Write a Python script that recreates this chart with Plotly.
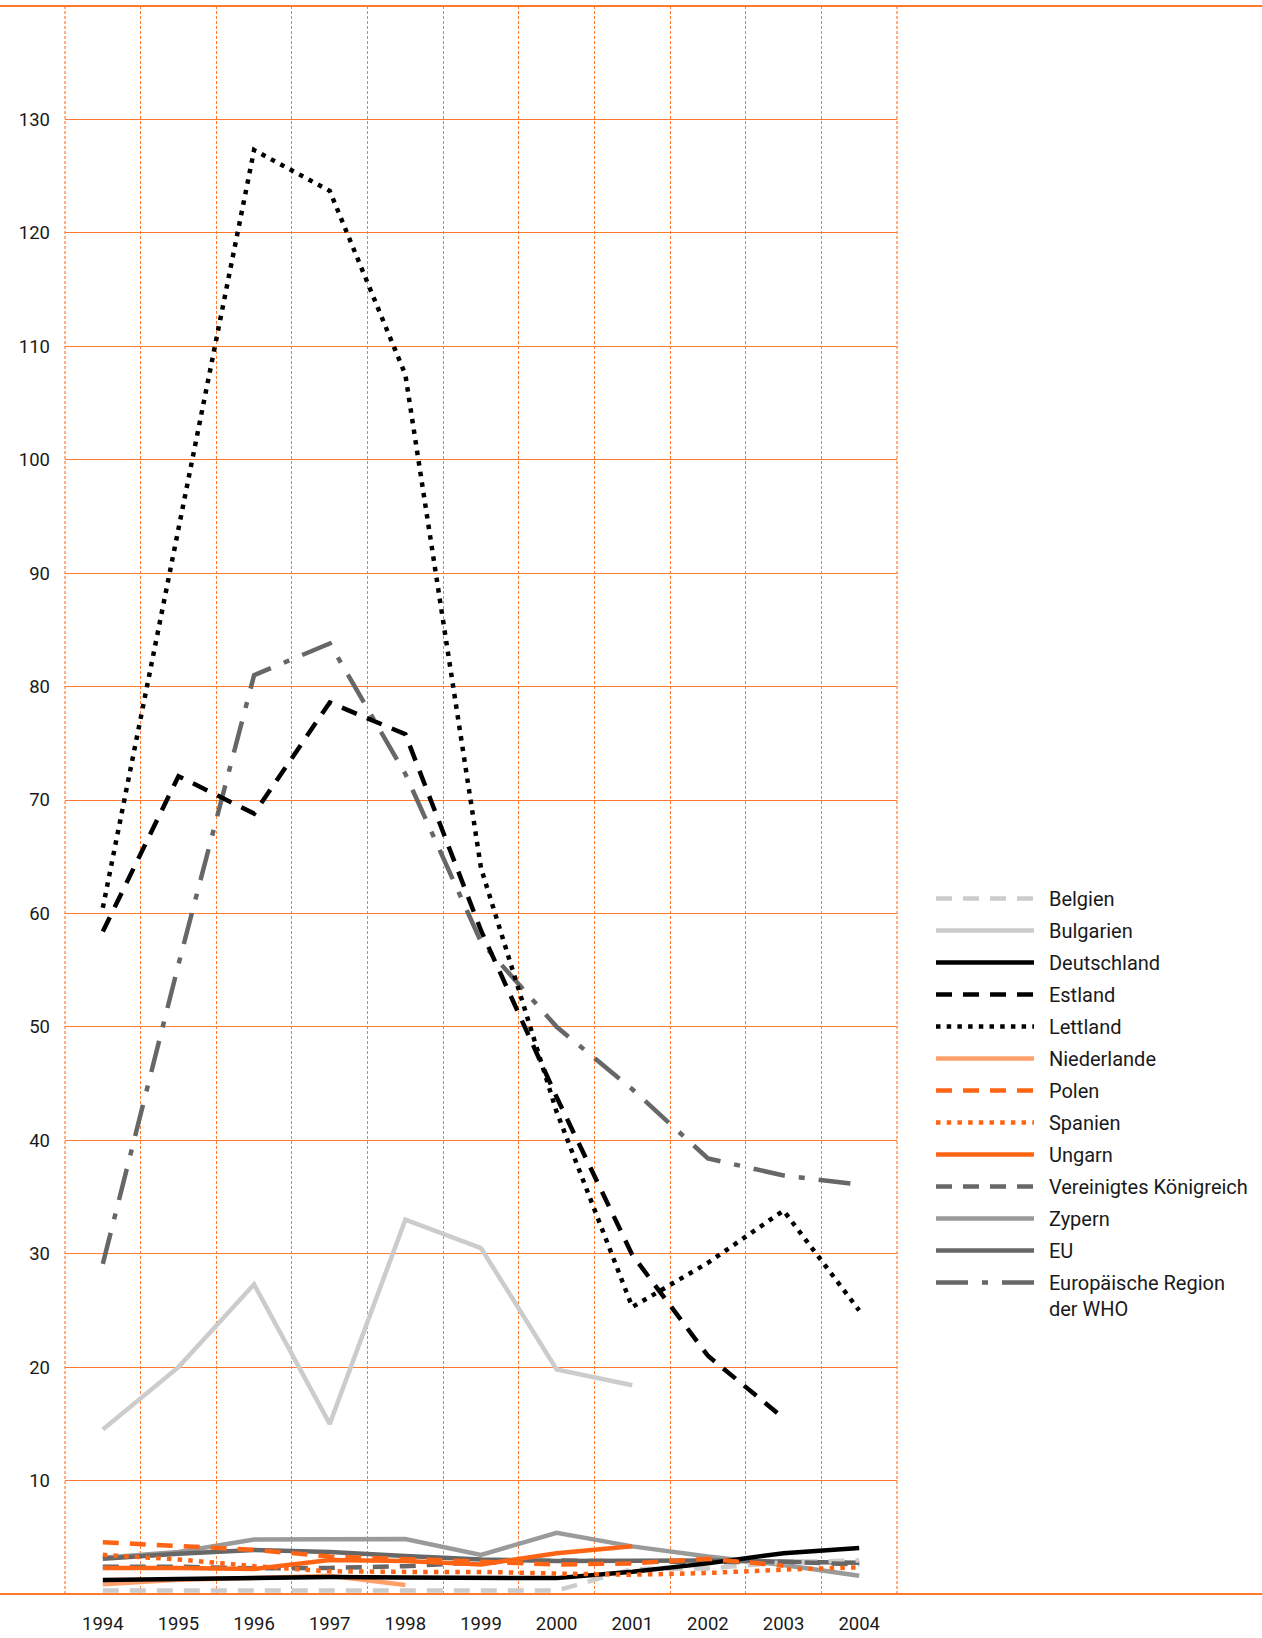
import plotly.graph_objects as go

# ---------------- data ----------------
years = [1994, 1995, 1996, 1997, 1998, 1999, 2000, 2001, 2002, 2003, 2004]
year_labels = [str(y) for y in years]
y_ticks = [10, 20, 30, 40, 50, 60, 70, 80, 90, 100, 110, 120, 130]

belgien = [0.3, 0.3, 0.3, 0.3, 0.3, 0.3, 0.3, 2.2, 2.25, 2.8, 2.95]
bulgarien = [14.5, 20.0, 27.3, 15.0, 33.0, 30.5, 19.8, 18.4, None, None, None]
deutschland = [1.23, 1.35, 1.45, 1.5, 1.45, 1.45, 1.4, 1.97, 2.7, 3.6, 4.05]
estland = [58.4, 72.1, 68.8, 78.6, 75.8, 58.5, 43.8, 29.9, 21.0, 15.5, None]
lettland = [60.5, 94.0, 127.3, 123.7, 107.5, 64.0, 42.5, 25.3, 29.2, 33.8, 25.0]
niederlande = [0.85, 1.25, 1.4, 1.6, 0.8, None, None, None, None, None, None]
polen = [4.56, 4.2, 3.9, 3.3, 3.1, 2.85, 2.6, 2.7, 3.1, 2.5, None]
spanien = [3.45, 3.05, 2.45, 2.0, 1.95, 1.95, 1.8, 1.7, 1.85, 2.15, 2.35]
ungarn = [2.3, 2.3, 2.2, 3.0, 2.9, 2.6, 3.6, 4.2, None, None, None]
uk = [2.41, 2.41, 2.26, 2.3, 2.45, 2.8, 2.95, 2.85, 2.8, 2.85, 2.6]
zypern = [3.2, 3.7, 4.8, 4.8, 4.85, 3.45, 5.4, 4.2, 3.3, 2.56, 1.6]
eu = [3.1, 3.55, 3.88, 3.7, 3.35, 3.05, 2.9, 2.9, 2.95, 2.85, 2.75]
who = [29.1, 55.5, 81.0, 83.8, 72.3, 57.5, 50.0, 44.5, 38.4, 36.9, 36.1]

ORANGE = "#ff6414"
LORANGE = "#ffa06a"
LGRAY = "#cccccc"
MGRAY = "#9a9a9a"
DGRAY = "#676767"
GRID = "#ff7a2e"
FONT = "Roboto"

DASH = "16px,11px"
DOT = "4.5px,6.2px"
DASHDOT = "32px,14px,6px,14px"
LW = 4.5
PAD = "&nbsp;&nbsp;"

# (legend name, values, color, dash, legend rank) -- drawing order
series = [
    ("Europäische Region<br>" + PAD + "der WHO", who, DGRAY, DASHDOT, 13),
    ("Bulgarien", bulgarien, LGRAY, "solid", 2),
    ("Lettland", lettland, "#000000", DOT, 5),
    ("Estland", estland, "#000000", DASH, 4),
    ("Zypern", zypern, MGRAY, "solid", 11),
    ("EU", eu, DGRAY, "solid", 12),
    ("Belgien", belgien, LGRAY, DASH, 1),
    ("Vereinigtes Königreich", uk, DGRAY, DASH, 10),
    ("Niederlande", niederlande, LORANGE, "solid", 6),
    ("Deutschland", deutschland, "#000000", "solid", 3),
    ("Ungarn", ungarn, ORANGE, "solid", 9),
    ("Spanien", spanien, ORANGE, DOT, 8),
    ("Polen", polen, ORANGE, DASH, 7),
]

fig = go.Figure()
for name, vals, col, dash, rank in series:
    fig.add_trace(go.Scatter(
        x=years, y=vals, mode="lines", name=PAD + name,
        legendrank=rank, legendgroup=name,
        line=dict(color=col, width=LW, dash=dash),
        connectgaps=False, hoverinfo="skip",
    ))

W, H = 1262, 1638
ML, MR, MT, MB = 65, 365, 6, 44
pw = W - ML - MR
ph = H - MT - MB

boundaries = [y - 0.5 for y in years] + [years[-1] + 0.5]

edge_lines = [
    dict(type="line", xref="paper", yref="paper", x0=xe, x1=xe, y0=0, y1=1,
         line=dict(color=GRID, width=1.2, dash="3px,2px"), layer="below")
    for xe in (0, 1)
]

fig.update_layout(
    width=W, height=H,
    margin=dict(l=ML, r=MR, t=MT, b=MB, pad=0, autoexpand=False),
    paper_bgcolor="white", plot_bgcolor="white",
    font=dict(family=FONT, size=18.5, color="#1a1a1a"),
    showlegend=True,
    legend=dict(
        x=(931 - ML) / pw, xanchor="left",
        y=1 - (879 - MT) / ph, yanchor="top",
        font=dict(family=FONT, size=20, color="#1a1a1a"),
        itemwidth=98, tracegroupgap=3, valign="top",
        bgcolor="rgba(0,0,0,0)", borderwidth=0,
        traceorder="grouped",
    ),
    xaxis=dict(
        range=[years[0] - 0.5, years[-1] + 0.5],
        tickvals=years, ticktext=year_labels,
        showgrid=False, zeroline=False, showline=False, ticks="",
        ticklabelstandoff=16, automargin=False,
        minor=dict(tickvals=boundaries, showgrid=True, gridcolor=GRID,
                   gridwidth=1.2, griddash="3px,2px"),
        fixedrange=True,
    ),
    yaxis=dict(
        range=[0, 140], tickvals=y_ticks, ticktext=[str(v) for v in y_ticks],
        showgrid=True, gridcolor=GRID, gridwidth=1.3,
        zeroline=False, showline=False, ticks="",
        ticklabelstandoff=14, automargin=False, fixedrange=True,
    ),
    shapes=edge_lines + [
        dict(type="line", xref="paper", yref="paper",
             x0=-ML / pw, x1=(W - ML) / pw, y0=1, y1=1,
             line=dict(color=GRID, width=2.2), layer="above"),
        dict(type="line", xref="paper", yref="paper",
             x0=-ML / pw, x1=(W - ML) / pw, y0=0, y1=0,
             line=dict(color=GRID, width=1.8), layer="above"),
    ],
)

fig.write_html("out.html", config={"displayModeBar": False},
               post_script="document.body.style.margin='0px';")
